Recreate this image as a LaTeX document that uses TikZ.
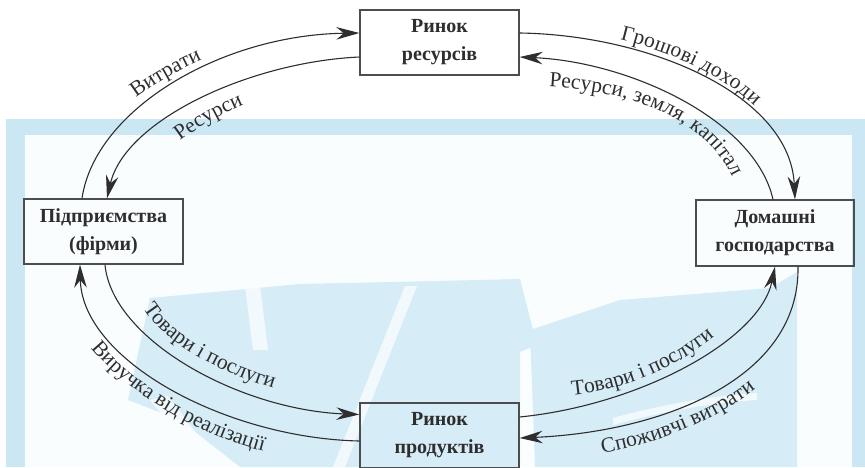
\documentclass[tikz,border=0pt]{standalone}
\usepackage{fontspec}
\setmainfont{Liberation Serif}
\usetikzlibrary{arrows.meta,decorations.text}
\definecolor{bandblue}{HTML}{CBE7F4}
\definecolor{wmblue}{HTML}{D6ECF7}
\definecolor{innerbg}{HTML}{FAFDFE}
\definecolor{ink}{HTML}{2E2E2E}
\newcommand{\lblfont}{\fontsize{21.5}{24}\selectfont\color{ink}}
\begin{document}
\begin{tikzpicture}[x=1pt,y=-1pt,
  box/.style={draw=ink!85, line width=1.3pt, minimum width=159pt, minimum height=65pt,
    inner sep=0pt, align=center, font=\fontsize{20}{28}\selectfont\bfseries, text=ink},
  flow/.style={draw=ink, line width=1.1pt, -{Stealth[length=23pt,width=12.5pt,inset=7.5pt]}},
  lbl/.style={decorate, decoration={text along path, text align=left, text={|\lblfont|#1}}},
  lbli/.style 2 args={decorate, decoration={text along path, text align={left, left indent=#2},
    text={|\lblfont|#1}}},
  wm/.style={fill=wmblue, draw=none},
  gap/.style={fill=innerbg, draw=none, opacity=0.8}
]
\clip (0,0) rectangle (865,467);
\fill[white] (0,0) rectangle (865,467);
% background frame
\fill[bandblue] (6,119) rectangle (865,467);
\fill[innerbg] (25,135) rectangle (852,467);
% watermark shapes
\fill[wm] (150,298) -- (300,284) -- (437,281) -- (520,279) -- (537,345) -- (520,352) -- (520,467)
   -- (240,467) -- (180,420) -- (128,400) -- cycle;
\fill[gap] (405,286) -- (417,286) -- (345,467) -- (333,467) -- cycle;
\fill[gap] (245,286) -- (260,286) -- (268,350) -- (253,350) -- cycle;
\fill[gap] (150,400) -- (168,396) -- (222,467) -- (204,467) -- cycle;
\fill[wm] (530,330) -- (620,300) -- (770,288) -- (797,272) -- (797,467) -- (535,467) -- cycle;
\fill[gap] (613,418) .. controls (660,405) and (710,396) .. (757,393) -- (757,400)
   .. controls (710,403) and (660,412) .. (613,425) -- cycle;

% nodes
\node[box] (res) at (439.5,42.5) {Ринок\\ресурсів};
\node[box] (firm) at (103.5,231.5) {Підприємства\\(фірми)};
\node[box, minimum width=158pt, minimum height=66pt] (home) at (775,233) {Домашні\\господарства};
\node[box] (prod) at (439.5,435.5) {Ринок\\продуктів};

% connectors
\draw[flow] ([xshift=-21.5pt]firm.north) .. controls (95,110) and (220,35) .. ([yshift=9.5pt]res.west);
\draw[flow] ([yshift=-14.5pt]res.west) .. controls (250,62) and (125,120) .. ([xshift=3.5pt]firm.north);
\draw[flow] ([yshift=9.5pt]res.east) .. controls (650,35) and (790,95) .. ([xshift=20pt]home.north);
\draw[flow] ([xshift=-2pt]home.north) .. controls (755,120) and (630,62) .. ([yshift=-14.5pt]res.east);
\draw[flow] ([xshift=1.5pt]firm.south) .. controls (112,340) and (240,410) .. ([yshift=21pt]prod.west);
\draw[flow] ([yshift=-5.5pt]prod.west) .. controls (225,438) and (82,360) .. ([xshift=-23.5pt]firm.south);
\draw[flow] ([yshift=18.5pt]prod.east) .. controls (640,405) and (760,340) .. (home.south);
\draw[flow] ([xshift=23pt]home.south) .. controls (800,380) and (660,432) .. ([yshift=-2.5pt]prod.east);

% labels (baselines)
\path[lbl={Витрати}] (136,98) .. controls (158,82) and (185,66) .. (225,50);
\path[lbl={Ресурси}] (180,141) .. controls (203,124) and (225,111) .. (262,97);
\path[lbli={Грошові доходи}{100pt}, decoration={raise=6pt}]
  ([yshift=9.5pt]res.east) .. controls (650,35) and (790,95) .. ([xshift=20pt]home.north);
\path[lbl={Ресурси, земля, капітал}] (549,87) .. controls (640,92) and (722,122) .. (742,205);
\path[lbl={Товари і послуги}] (143,308) .. controls (165,345) and (225,378) .. (305,397);
\path[lbli={Виручка від реалізації}{92pt}] (59,264.4) .. controls (48,360.5) and (224.3,472) .. (359.6,462);
\path[lbl={Товари і послуги}] (572,395) .. controls (625,390) and (690,366) .. (740,312);
\path[lbli={Споживчі витрати}{83pt}] (519.8,459) .. controls (661.4,466) and (834,379.4) .. (819,265.6);
\end{tikzpicture}
\end{document}
